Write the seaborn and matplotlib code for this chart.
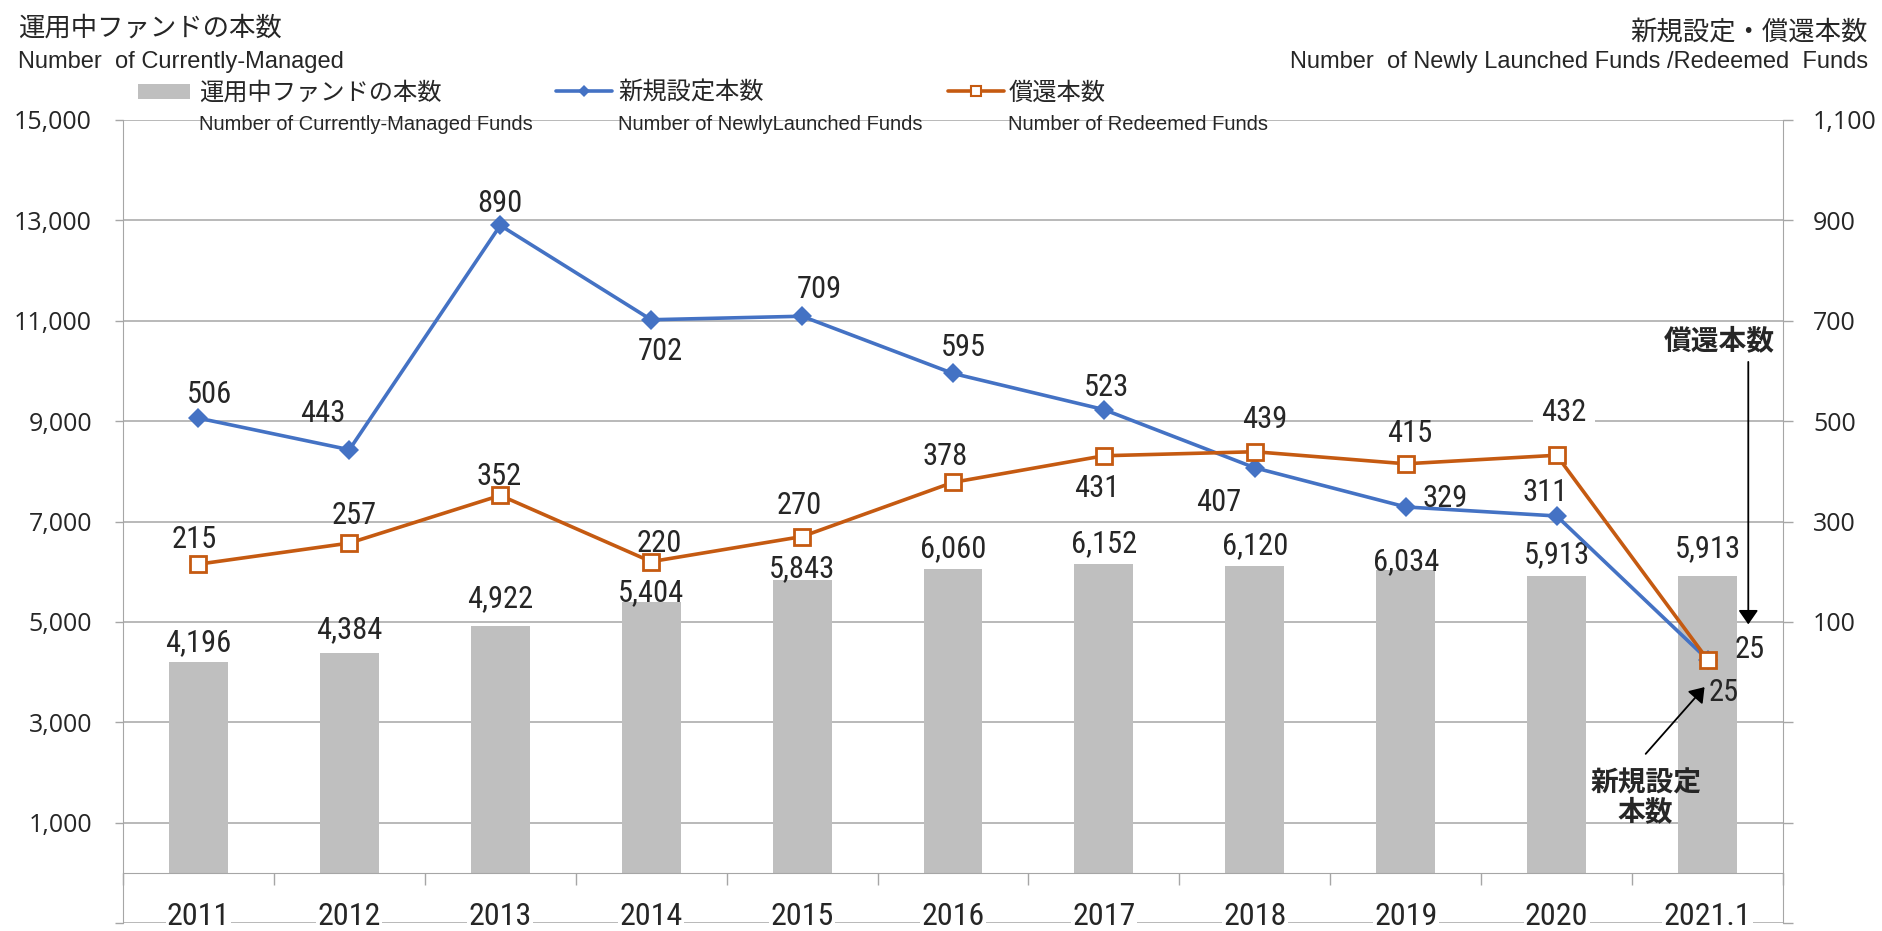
import numpy as np
import matplotlib
matplotlib.use("Agg")
import matplotlib.pyplot as plt
import seaborn as sns
from matplotlib.lines import Line2D
from matplotlib.patches import Patch
from matplotlib.ticker import FuncFormatter

# ---------------- data ----------------
years = ["2011", "2012", "2013", "2014", "2015", "2016", "2017", "2018", "2019", "2020", "2021.1"]
managed = [4196, 4384, 4922, 5404, 5843, 6060, 6152, 6120, 6034, 5913, 5913]
launched = [506, 443, 890, 702, 709, 595, 523, 407, 329, 311, 25]
redeemed = [215, 257, 352, 220, 270, 378, 431, 439, 415, 432, 25]

left_ticks = list(range(-1000, 15001, 2000))
right_ticks = list(range(-500, 1101, 200))

# ---------------- label offsets (pixels, style only) ----------------
bar_dy = [-20, -23, -27, -9, -11, -20, -20, -20, -8, -21, -27]
launch_off = [(11, -24), (-27, -36), (0, -22), (9, 32), (17, -27), (10, -26),
              (3, -22), (-36, 35), (39, -8), (-11, -23), (16, 33)]
redeem_off = [(-4, -25), (5, -28), (-1, -19), (8, -18), (-3, -31), (-8, -26),
              (-7, 33), (10, -32), (4, -30), (7, -43), (42, -10)]

# ---------------- style ----------------
GRAY_BAR = "#BFBFBF"
BLUE = "#4472C4"
ORANGE = "#C55A11"
GRID = "#A6A6A6"
JP = ["Noto Sans CJK JP", "DejaVu Sans"]
NARROW = ["Roboto Condensed", "Liberation Sans Narrow", "Liberation Sans"]
EN = ["Liberation Sans", "DejaVu Sans"]

sns.set_style("white")
plt.rcParams["font.family"] = ["Open Sans", "Noto Sans CJK JP", "DejaVu Sans"]

W, H = 1883, 931
fig = plt.figure(figsize=(W / 100, H / 100), dpi=100)
ax = fig.add_axes([123 / W, (H - 923) / H, (1783 - 123) / W, (923 - 120) / H])

pos = np.arange(len(years))

sns.barplot(x=years, y=managed, color=GRAY_BAR, saturation=1, width=0.39,
            errorbar=None, linewidth=0, ax=ax)
ax.set_xlim(-0.5, len(years) - 0.5)
ax.set_ylim(-1000, 15000)
ax.set_xlabel("")
ax.set_ylabel("")

ax2 = ax.twinx()
sns.lineplot(x=pos, y=launched, ax=ax2, color=BLUE, linewidth=2.6, marker="D",
             markersize=10, markeredgewidth=0, markerfacecolor=BLUE, sort=False)
sns.lineplot(x=pos, y=redeemed, ax=ax2, color=ORANGE, linewidth=2.6, marker="s",
             markersize=12, markeredgewidth=2, markerfacecolor="white",
             markeredgecolor=ORANGE, sort=False)
ax2.set_ylim(-500, 1100)
ax2.set_xlim(-0.5, len(years) - 0.5)
ax2.set_xlabel("")
ax2.set_ylabel("")

fmt = FuncFormatter(lambda v, p: f"{v:,.0f}" if v > 0 else "")

# left axis
ax.set_yticks(left_ticks)
ax.yaxis.set_major_formatter(fmt)
ax.tick_params(axis="y", which="major", direction="out", length=5.8, width=1,
               color=GRID, pad=16.5, labelsize=18, left=True)
ax.grid(axis="y", color=GRID, linewidth=1.1)
ax.grid(axis="x", visible=False)
ax.set_axisbelow(True)

# right axis
ax2.set_yticks(right_ticks)
ax2.yaxis.set_major_formatter(fmt)
ax2.tick_params(axis="y", which="major", direction="out", length=7.2, width=1,
                color=GRID, pad=14.4, labelsize=18, right=True)
ax2.grid(False)

# spines
for s in ["top", "right"]:
    ax.spines[s].set_visible(False)
ax.spines["left"].set_color(GRID)
ax.spines["bottom"].set_color(GRID)
ax.spines["bottom"].set_position(("data", 0))
for s in ["top", "bottom", "left"]:
    ax2.spines[s].set_visible(False)
ax2.spines["right"].set_color(GRID)

# x axis: boundary ticks at 0 line, category labels near the bottom
ax.set_xticks(np.arange(len(years) + 1) - 0.5)
ax.set_xticklabels([])
ax.set_xticks(pos, labels=years, minor=True)
ax.tick_params(axis="x", which="major", direction="out", length=8.6, width=1,
               color=GRID, bottom=True)
ax.tick_params(axis="x", which="minor", length=0, pad=21, labelsize=23, bottom=True)
for t in ax.get_xticklabels(minor=True):
    t.set_fontfamily(NARROW)
    t.set_bbox(dict(facecolor="white", edgecolor="none", pad=1))
ax.xaxis.set_zorder(3)

# ---------------- data labels ----------------
LBL = 22
for i, v in enumerate(managed):
    ax.annotate(f"{v:,}", xy=(pos[i], v), xytext=(0, -bar_dy[i]),
                textcoords="offset pixels", ha="center", va="center",
                fontsize=LBL, family=NARROW)
for i, v in enumerate(launched):
    dx, dy = launch_off[i]
    ax2.annotate(f"{v:,}", xy=(pos[i], v), xytext=(dx, -dy),
                 textcoords="offset pixels", ha="center", va="center",
                 fontsize=LBL, family=NARROW)
for i, v in enumerate(redeemed):
    dx, dy = redeem_off[i]
    kw = {}
    if i == 9:
        kw["bbox"] = dict(facecolor="white", edgecolor="none", pad=6)
    ax2.annotate(f"{v:,}", xy=(pos[i], v), xytext=(dx, -dy),
                 textcoords="offset pixels", ha="center", va="center",
                 fontsize=LBL, family=NARROW, **kw)

# ---------------- callouts ----------------
ax2.text(10.08, 660, "償還本数", ha="center", va="center", fontsize=20,
         fontweight="bold", family=JP)
ax2.annotate("", xy=(10.27, 95), xytext=(10.27, 618),
             arrowprops=dict(arrowstyle="-|>,head_length=0.43,head_width=0.3",
                             color="black", lw=1.3, shrinkA=0, shrinkB=0,
                             mutation_scale=20))
ax2.text(9.59, -251, "新規設定\n本数", ha="center", va="center", fontsize=20,
         fontweight="bold", family=JP, linespacing=1.05)
ax2.annotate("", xy=(9.98, -30), xytext=(9.59, -163),
             arrowprops=dict(arrowstyle="-|>,head_length=0.43,head_width=0.3",
                             color="black", lw=1.3, shrinkA=0, shrinkB=0,
                             mutation_scale=20))

# ---------------- legends ----------------
leg_kw = dict(loc="center left", frameon=False, borderpad=0, borderaxespad=0,
              prop={"family": JP, "size": 17.5})
fig.legend(handles=[Patch(facecolor=GRAY_BAR, edgecolor="none")],
           labels=["運用中ファンドの本数"], bbox_to_anchor=(138 / W, 1 - 93 / H),
           handlelength=2.14, handleheight=0.58, handletextpad=0.37, **leg_kw)
fig.legend(handles=[Line2D([], [], color=BLUE, lw=2.6, marker="D", ms=6,
                           markeredgewidth=0)],
           labels=["新規設定本数"], bbox_to_anchor=(556 / W, 1 - 93 / H),
           handlelength=2.3, handletextpad=0.25, **leg_kw)
fig.legend(handles=[Line2D([], [], color=ORANGE, lw=2.6, marker="s", ms=7,
                           markerfacecolor="white", markeredgewidth=1.5)],
           labels=["償還本数"], bbox_to_anchor=(948 / W, 1 - 93 / H),
           handlelength=2.3, handletextpad=0.2, **leg_kw)

fig.text(199 / W, 1 - 125 / H, "Number of Currently-Managed Funds", family=EN,
         fontsize=14.5, va="center", ha="left")
fig.text(618 / W, 1 - 125 / H, "Number of NewlyLaunched Funds", family=EN,
         fontsize=14.5, va="center", ha="left")
fig.text(1008 / W, 1 - 125 / H, "Number of Redeemed Funds", family=EN,
         fontsize=14.5, va="center", ha="left")

# ---------------- axis titles ----------------
fig.text(18 / W, 1 - 28 / H, "運用中ファンドの本数", family=JP, fontsize=19,
         va="center", ha="left")
fig.text(18 / W, 1 - 62 / H, "Number  of Currently-Managed", family=EN,
         fontsize=17, va="center", ha="left")
fig.text(1868 / W, 1 - 33 / H, "新規設定・償還本数", family=JP, fontsize=19,
         va="center", ha="right")
fig.text(1868 / W, 1 - 62 / H, "Number  of Newly Launched Funds /Redeemed  Funds",
         family=EN, fontsize=17, va="center", ha="right")

fig.savefig("out.png", dpi=100)
